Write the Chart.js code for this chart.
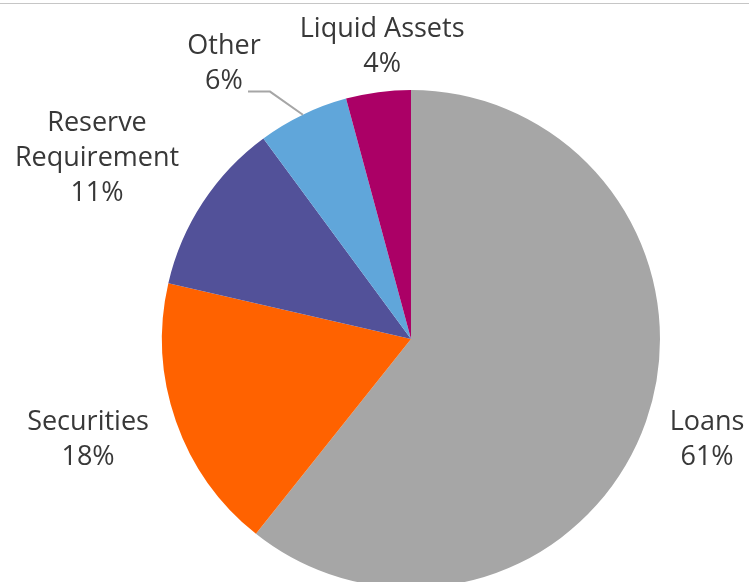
<!DOCTYPE html>
<html><head><meta charset="utf-8">
<script src="https://cdn.jsdelivr.net/npm/chart.js@4"></script>
<style>
html,body{margin:0;padding:0;background:#fff;overflow:hidden;width:749px;height:582px;}
#wrap{position:relative;width:749px;height:582px;overflow:hidden;}
#topline{position:absolute;left:0;top:3px;width:749px;height:1px;background:#c6c6c6;}
#c{position:absolute;left:0;top:0;}
</style></head>
<body>
<div id="wrap"><div id="topline"></div><canvas id="c" width="749" height="600"></canvas></div>
<script>
const categories = ["Loans", "Securities", "Reserve Requirement", "Other", "Liquid Assets"];
const values = [60.7, 17.9, 11.3, 5.9, 4.2];
const labelNames = [["Loans"], ["Securities"], ["Reserve", "Requirement"], ["Other"], ["Liquid Assets"]];
const colors = ["#A6A6A6", "#FF6200", "#525199", "#60A6DA", "#AB0066"];

const labelPlugin = {
  id: 'pieLabels',
  afterDatasetsDraw(chart, args, opts) {
    const ctx = chart.ctx;
    const meta = chart.getDatasetMeta(0);
    const data = chart.data.datasets[0].data;
    const total = data.reduce((a, b) => a + b, 0);
    ctx.save();
    ctx.font = opts.font;
    ctx.fillStyle = opts.color;
    ctx.textAlign = 'center';
    ctx.textBaseline = 'middle';
    meta.data.forEach((arc, i) => {
      const p = arc.getProps(['x','y','startAngle','endAngle','outerRadius'], true);
      const r = p.outerRadius;
      const pos = opts.positions[i];
      const cx = p.x + pos[0]*r, cy = p.y + pos[1]*r;
      const lines = labelNames[i].concat([Math.round(data[i] / total * 100) + '%']);
      const lh = opts.lineHeight;
      const y0 = cy - (lines.length-1)*lh/2;
      lines.forEach((t, k) => ctx.fillText(t, cx, y0 + k*lh));
      if (opts.leaders[i]) {
        const mid = (p.startAngle + p.endAngle)/2;
        const ex = p.x + Math.cos(mid)*r, ey = p.y + Math.sin(mid)*r;
        const ly = y0 + (lines.length-1)*lh + 10;
        const sx = cx + 24;
        ctx.strokeStyle = '#a6a6a6';
        ctx.lineWidth = 2;
        ctx.beginPath();
        ctx.moveTo(sx, ly);
        ctx.lineTo(sx + 22, ly);
        ctx.lineTo(ex, ey);
        ctx.stroke();
      }
    });
    ctx.restore();
  }
};

new Chart(document.getElementById('c'), {
  type: 'pie',
  data: { labels: categories, datasets: [{ data: values, backgroundColor: colors, borderWidth: 0 }] },
  options: {
    responsive: false,
    animation: false,
    layout: { padding: { left: 162, right: 89, top: 90, bottom: 12 } },
    plugins: {
      legend: { display: false },
      tooltip: { enabled: false },
      pieLabels: {
        font: '27px "Open Sans"',
        color: '#383838',
        lineHeight: 35,
        positions: [[1.189, 0.406], [-1.297, 0.406], [-1.261, -0.727], [-0.751, -1.104], [-0.116, -1.173]],
        leaders: [false, false, false, true, false]
      }
    }
  },
  plugins: [labelPlugin]
});
</script>
</body></html>
